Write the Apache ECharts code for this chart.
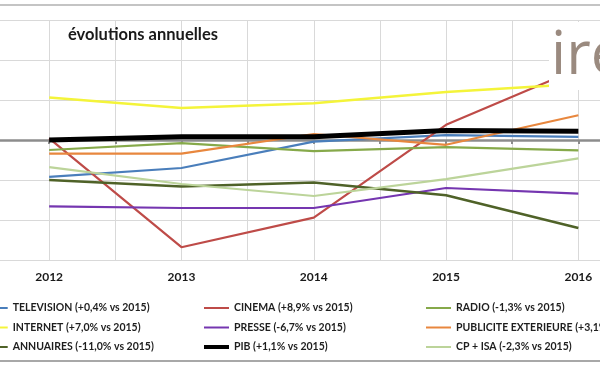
<!DOCTYPE html>
<html><head><meta charset="utf-8">
<script src="https://cdn.jsdelivr.net/npm/echarts@6/dist/echarts.min.js"></script>
<style>html,body{margin:0;padding:0;background:#fff}#c{width:600px;height:372px}</style>
</head><body><div id="c"></div>
<script>
const years = [2012, 2013, 2014, 2015, 2016];
const television = [-4.6, -3.5, -0.2, 0.6, 0.4];
const cinema = [0.2, -13.4, -9.7, 1.9, 8.9];
const radio = [-1.25, -0.4, -1.4, -0.9, -1.3];
const internet = [5.3, 4.0, 4.6, 6.0, 7.0];
const presse = [-8.3, -8.5, -8.5, -6.0, -6.7];
const publiciteExterieure = [-1.7, -1.7, 0.75, -0.6, 3.1];
const annuaires = [-5.0, -5.8, -5.3, -6.9, -11.0];
const pib = [0.0, 0.4, 0.4, 1.2, 1.1];
const cpIsa = [-3.4, -5.5, -7.0, -4.9, -2.3];
const seriesNames = [
  'TELEVISION (+0,4% vs 2015)', 'CINEMA (+8,9% vs 2015)', 'RADIO (-1,3% vs 2015)',
  'INTERNET (+7,0% vs 2015)', 'PRESSE (-6,7% vs 2015)', 'PUBLICITE EXTERIEURE (+3,1% vs 2015)',
  'ANNUAIRES (-11,0% vs 2015)', 'PIB (+1,1% vs 2015)', 'CP + ISA (-2,3% vs 2015)'
];
const seriesValues = [television, cinema, radio, internet, presse, publiciteExterieure, annuaires, pib, cpIsa];
const colors = ['#4a7ebb', '#be4b48', '#86a94a', '#f4f43a', '#7536b0', '#e8873e', '#4f6228', '#000000', '#bcd49a'];
const widths = [2.2, 2.2, 2.2, 2.5, 2.2, 2.2, 2.5, 5, 2.2];

const chart = echarts.init(document.getElementById('c'), null, {renderer: 'canvas'});
const series = seriesNames.map((n, i) => ({
  name: n, type: 'line', symbol: 'none', xAxisIndex: 0, yAxisIndex: 0,
  lineStyle: {color: colors[i], width: widths[i]}, itemStyle: {color: colors[i]},
  z: i === 7 ? 4 : 3,
  data: years.map((y, k) => [y, seriesValues[i][k]])
}));
const legendText = {color: '#1e1e1e', fontSize: 10.5, fontFamily: 'Lato', fontWeight: 'bold'};
function leg(left, idx) {
  return {orient: 'vertical', left: left, top: 302.5, padding: 0, itemWidth: 25, itemHeight: 14, itemGap: 8.5,
    data: idx.map(i => ({name: seriesNames[i],
      icon: i === 7 ? 'path://M0,0H25V4H0Z' : 'path://M0,0H25V2H0Z'})),
    textStyle: legendText, selectedMode: false};
}
chart.setOption({
  animation: false,
  grid: {left: -17, right: -44.5, top: 20, bottom: 112, outerBoundsMode: 'none', containLabel: false},
  xAxis: [{
    type: 'value', min: 2011.5, max: 2016.5, interval: 0.5, position: 'bottom',
    axisLine: {show: false, onZero: false}, axisTick: {show: false},
    axisLabel: {margin: 11, color: '#1a1a1a', fontFamily: 'Lato', fontWeight: 'bold', fontSize: 12,
      formatter: v => (Math.abs(v - Math.round(v)) < 1e-6 ? String(Math.round(v)) : '')},
    splitLine: {show: true, lineStyle: {color: '#d9d9d9', width: 1}}
  }, {
    type: 'value', min: 2011.5, max: 2016.5, interval: 0.5, position: 'top',
    axisLine: {show: true, onZero: true, lineStyle: {color: '#8c8c8c', width: 2.5}},
    axisTick: {show: true, inside: true, length: 4, lineStyle: {color: '#8c8c8c', width: 2}},
    axisLabel: {show: false}, splitLine: {show: false}
  }],
  yAxis: {
    type: 'value', min: -15, max: 15, interval: 5,
    axisLine: {show: false}, axisTick: {show: false}, axisLabel: {show: false},
    splitLine: {show: true, lineStyle: {color: '#d9d9d9', width: 1}}
  },
  legend: [
    leg(-17.3, [0, 3, 6]),
    leg(204, [1, 4, 7]),
    leg(426, [2, 5, 8])
  ],
  graphic: [
    {type: 'rect', shape: {x: 0, y: 4, width: 600, height: 2}, style: {fill: '#c4c4c4'}, z: 10},
    {type: 'rect', shape: {x: 0, y: 360, width: 600, height: 2}, style: {fill: '#a8a8a8'}, z: 10},
    {type: 'text', left: 68, top: 26, style: {text: 'évolutions annuelles', fill: '#1a1a1a',
      font: 'bold 16.5px Lato'}, z: 10},
    {type: 'rect', shape: {x: 549, y: 22, width: 51, height: 68}, style: {fill: '#ffffff'}, z: 20},
    {type: 'text', x: 551, y: 57, style: {text: 'ire', fill: '#9a8a7f', font: '60px "Open Sans"',
      verticalAlign: 'middle'}, z: 21}
  ],
  series: series
});
</script></body></html>
